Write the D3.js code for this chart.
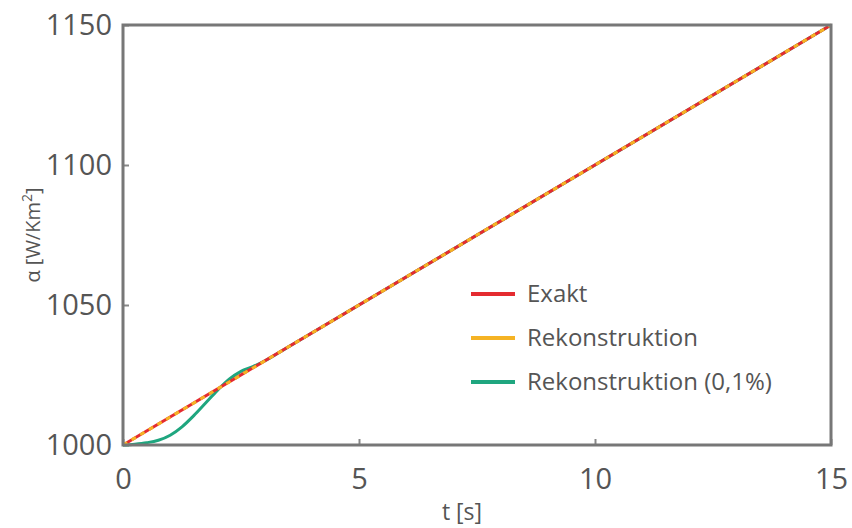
<html>
<script src='https://d3js.org/d3.v7.min.js'></script>
<style> body {margin:0; background:#fff;} text {font-family: "Open Sans", sans-serif; fill:#555;} </style>
<body>
<div id="chart"></div>
<script>
// values
var exaktT = [0, 15];
var exaktA = [1000, 1150];
var rekT = [0, 3, 6, 9, 12, 15];
var rekA = [1000, 1030, 1060, 1090, 1120, 1150];
var rek01T = [0, 0.25, 0.5, 0.75, 1, 1.25, 1.5, 1.75, 2, 2.25, 2.5, 2.75, 3, 3.5, 4, 15];
var rek01A = [1000, 1000.3, 1000.8, 1001.7, 1003.5, 1006.5, 1010.5, 1015, 1019.5, 1023.5, 1026.3, 1028, 1030, 1035, 1040, 1150];
var xTicks = [0, 5, 10, 15];
var yTicks = [1000, 1050, 1100, 1150];
var legendNames = ["Exakt", "Rekonstruktion", "Rekonstruktion (0,1%)"];
var colors = ["#e42b30", "#f5b324", "#1fa67f"];

var margin = {top: 25, right: 21, bottom: 83, left: 123},
    width = 852 - margin.left - margin.right,
    height = 528 - margin.top - margin.bottom;

var svg = d3.select("#chart").append("svg")
    .attr("width", 852).attr("height", 528);
var g = svg.append("g").attr("transform", "translate(" + margin.left + "," + margin.top + ")");

var x = d3.scaleLinear().domain([0, 15]).range([0, width]);
var y = d3.scaleLinear().domain([1000, 1150]).range([height, 0]);

// axes with inward ticks
var xaxis = g.append("g").attr("transform", "translate(0," + height + ")")
    .call(d3.axisBottom(x).tickValues(xTicks).tickFormat(d3.format("d")).tickSize(-6).tickPadding(23));
var yaxis = g.append("g")
    .call(d3.axisLeft(y).tickValues(yTicks).tickFormat(d3.format("d")).tickSize(-6).tickPadding(11));
[xaxis, yaxis].forEach(function(a) {
  a.select(".domain").remove();
  a.selectAll("line").attr("stroke", "#888").attr("stroke-width", 2);
  a.selectAll("text").style("font-size", "29px").style("font-family", "'Open Sans', sans-serif").attr("fill", "#555");
});

function series(ts, vs) { return ts.map(function(t, i) { return [t, vs[i]]; }); }
var line = d3.line().x(d => x(d[0])).y(d => y(d[1])).curve(d3.curveMonotoneX);

g.append("path").datum(series(rek01T, rek01A)).attr("d", line)
  .attr("fill", "none").attr("stroke", colors[2]).attr("stroke-width", 3);
g.append("path").datum(series(exaktT, exaktA)).attr("d", line)
  .attr("fill", "none").attr("stroke", colors[0]).attr("stroke-width", 3);
g.append("path").datum(series(rekT, rekA)).attr("d", line)
  .attr("fill", "none").attr("stroke", colors[1]).attr("stroke-width", 3)
  .attr("stroke-dasharray", "5,5");

// frame
g.append("rect").attr("width", width).attr("height", height)
  .attr("fill", "none").attr("stroke", "#777").attr("stroke-width", 3);

// axis titles
svg.append("text").attr("x", 462).attr("y", 520).attr("text-anchor", "middle")
  .style("font-size", "23px").text("t [s]");
var yl = svg.append("text").attr("transform", "translate(40,235) rotate(-90)")
  .attr("text-anchor", "middle").style("font-size", "20px");
yl.append("tspan").text("\u03b1 [W/Km");
yl.append("tspan").attr("dy", -8).style("font-size", "14px").text("2");
yl.append("tspan").attr("dy", 8).text("]");

// legend
var leg = svg.append("g").attr("transform", "translate(471,294)");
leg.selectAll("line").data(legendNames).enter().append("line")
  .attr("x1", 0).attr("x2", 44)
  .attr("y1", (d, i) => i * 44).attr("y2", (d, i) => i * 44)
  .attr("stroke", (d, i) => colors[i]).attr("stroke-width", 4);
leg.selectAll("text").data(legendNames).enter().append("text")
  .attr("x", 56).attr("y", (d, i) => i * 44)
  .attr("dy", "0.35em").style("font-size", "24px")
  .text(d => d);
</script>
</body>
</html>
